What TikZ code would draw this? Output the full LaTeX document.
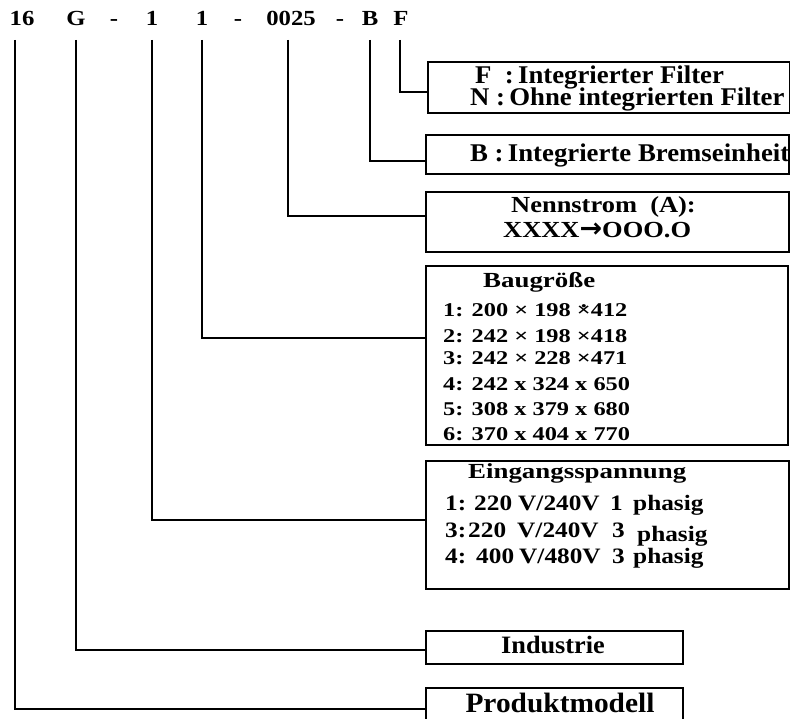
\documentclass[tikz,border=0pt]{standalone}
\usepackage{fontspec}
\setmainfont{Liberation Serif}[FakeStretch=1.05]
\newfontfamily\wideA{Liberation Serif}[FakeStretch=1.15]
\newfontfamily\wideB{Liberation Serif}[FakeStretch=1.25]
\newfontfamily\dejavu{DejaVu Sans}
\newcommand{\dotx}{\ooalign{×\cr\hidewidth\raisebox{0.5em}{.}\hidewidth}}
\begin{document}
\begin{tikzpicture}[x=1pt,y=-1pt,
  box/.style={draw, line width=2pt, anchor=north west, inner sep=0pt},
  conn/.style={line width=2pt},
  toptxt/.style={anchor=base, inner sep=0pt, font=\wideA\bfseries\fontsize{21.5}{26}\selectfont},
  txt/.style={anchor=base west, inner sep=0pt, font=\bfseries\fontsize{25.5}{30}\selectfont},
  etxt/.style={anchor=base west, inner sep=0pt, font=\wideA\bfseries\fontsize{22}{26}\selectfont},
  ntxt/.style={anchor=base west, inner sep=0pt, font=\wideA\bfseries\fontsize{23}{27}\selectfont},
  ttl/.style={anchor=base west, inner sep=0pt, font=\wideB\bfseries\fontsize{21.5}{26}\selectfont},
  small/.style={anchor=base west, inner sep=0pt, font=\wideB\bfseries\fontsize{19.5}{23}\selectfont},
  mid/.style={anchor=base, inner sep=0pt, font=\bfseries\fontsize{25}{30}\selectfont}]
\useasboundingbox (0,0) rectangle (790,719);
\clip (0,0) rectangle (790,719);
% top row
\node[toptxt] (t16) at (22,26) {16};
\node[toptxt] (tG) at (76,26) {G};
\node[toptxt] (td1) at (114,26) {-};
\node[toptxt] (t1a) at (152,26) {1};
\node[toptxt] (t1b) at (202,26) {1};
\node[toptxt] (td2) at (238,26) {-};
\node[toptxt] (t0025) at (291,26) {0025};
\node[toptxt] (td3) at (340,26) {-};
\node[toptxt] (tB) at (370,26) {B};
\node[toptxt] (tF) at (401,26) {F};
% line start points
\coordinate (l16) at (15,40);
\coordinate (lG) at (76,40);
\coordinate (l1a) at (152,40);
\coordinate (l1b) at (202,40);
\coordinate (l0025) at (288,40);
\coordinate (lB) at (370,40);
\coordinate (lF) at (400,40);
% boxes
\node[box, minimum width=362pt, minimum height=51pt] (boxF) at (427,61) {};
\node[box, minimum width=363pt, minimum height=39pt] (boxB) at (425,134) {};
\node[box, minimum width=363pt, minimum height=60pt] (boxN) at (425,191) {};
\node[box, minimum width=362pt, minimum height=179pt] (boxS) at (425,265) {};
\node[box, minimum width=363pt, minimum height=128pt] (boxE) at (425,460) {};
\node[box, minimum width=257pt, minimum height=33pt] (boxI) at (425,630) {};
\node[box, minimum width=257pt, minimum height=42pt] (boxP) at (425,687) {};
% connectors
\draw[conn] (lF) |- ([yshift=-4.5pt]boxF.west);
\draw[conn] (lB) |- ([yshift=-6.5pt]boxB.west);
\draw[conn] (l0025) |- ([yshift=6pt]boxN.west);
\draw[conn] (l1b) |- ([yshift=17.5pt]boxS.west);
\draw[conn] (l1a) |- ([yshift=5pt]boxE.west);
\draw[conn] (lG) |- ([yshift=-2.5pt]boxI.west);
\draw[conn] (l16) |- (boxP.west);
% box texts
\node[txt] (f1) at (475,84) {F\ \ :\,Integrierter Filter};
\node[txt] (f2) at (470,106) {N :\,Ohne integrierten Filter};
\node[txt] (b1) at (470,162) {B :\,Integrierte Bremseinheit};
\node[ntxt] (n1) at (511,213) {Nennstrom\ \ (A):};
\node[ntxt] (n2) at (503,238) {XXXX{\dejavu\bfseries\fontsize{27}{30}\selectfont →}OOO.O};
\node[ttl] (s0) at (483,288) {Baugröße};
\node[small] (s1) at (443,317) {1: 200 × 198 \dotx412};
\node[small] (s2) at (443,342) {2: 242 × 198 ×418};
\node[small] (s3) at (443,365) {3: 242 × 228 ×471};
\node[small] (s4) at (443,390) {4: 242 x 324 x 650};
\node[small] (s5) at (443,415) {5: 308 x 379 x 680};
\node[small] (s6) at (443,440) {6: 370 x 404 x 770};
\node[ttl] (e0) at (468,478) {Eingangsspannung};
\node[etxt] (e1a) at (445,510) {1:};
\node[etxt] (e1b) at (474,510) {220};
\node[etxt] (e1v) at (518,510) {V/240V};
\node[etxt] (e1c) at (610,510) {1};
\node[etxt] (e1d) at (633,510) {phasig};
\node[etxt] (e2a) at (445,537) {3:};
\node[etxt] (e2b) at (468,537) {220};
\node[etxt] (e2v) at (517,537) {V/240V};
\node[etxt] (e2c) at (612,537) {3};
\node[etxt] (e2d) at (637,541) {phasig};
\node[etxt] (e3a) at (445,563) {4:};
\node[etxt] (e3b) at (476,563) {400};
\node[etxt] (e3v) at (519,563) {V/480V};
\node[etxt] (e3c) at (612,563) {3};
\node[etxt] (e3d) at (633,563) {phasig};
\node[mid] (i1) at (553,653) {Industrie};
\node[mid, font=\bfseries\fontsize{28}{32}\selectfont] (p1) at (560,712) {Produktmodell};
\end{tikzpicture}
\end{document}
